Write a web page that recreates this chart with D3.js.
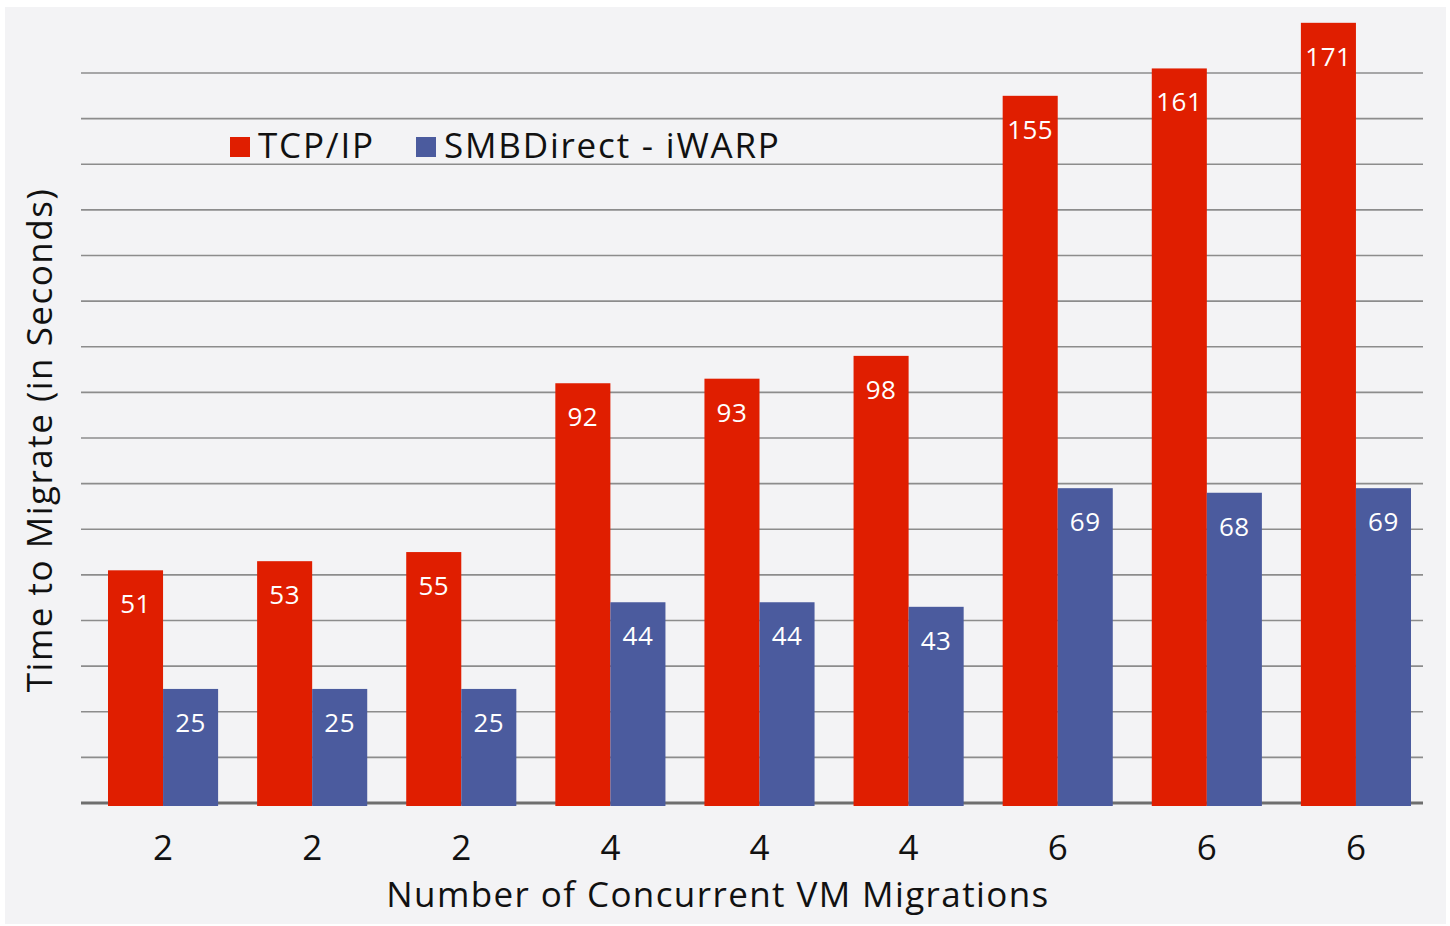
<!DOCTYPE html>
<html>
<head>
<meta charset="utf-8">
<script src="https://cdn.jsdelivr.net/npm/d3@7"></script>
<style>
  body { margin:0; background:#fff; }
  svg { display:block; font-family: "Open Sans", Lato, sans-serif; }
</style>
</head>
<body>
<div id="chart"></div>
<script>
var W = 1450, H = 926;

// data
var groups = ["2","2","2","4","4","4","6","6","6"];
var tcpVals = [51, 53, 55, 92, 93, 98, 155, 161, 171];
var smbVals = [25, 25, 25, 44, 44, 43, 69, 68, 69];
var seriesNames = ["TCP/IP", "SMBDirect - iWARP"];
var seriesColors = ["#e01e00", "#4b5b9e"];
var gridTicks = d3.range(0, 161, 10);

var m = {t:73, r:27, b:123, l:81};
var plotW = W - m.l - m.r, plotH = H - m.t - m.b;

var svg = d3.select("#chart").append("svg")
  .attr("width", W).attr("height", H);

svg.append("rect")
  .attr("x", 5).attr("y", 7)
  .attr("width", 1441).attr("height", 917)
  .attr("fill", "#f3f3f5");

var g = svg.append("g")
  .attr("transform", "translate(" + m.l + "," + m.t + ")");

var scaleY = d3.scaleLinear().domain([0, 160]).range([plotH, 0]);

// bars sit a bit right of each group slot
var step = plotW / groups.length, gap = 39;
var scaleX = d3.scaleBand()
  .domain(d3.range(groups.length))
  .range([27, 27 + step * groups.length - gap])
  .paddingInner(gap / step)
  .paddingOuter(0)
  .align(0);

var scaleSub = d3.scaleBand()
  .domain([0, 1])
  .range([0, scaleX.bandwidth()]);

// gridlines
g.selectAll(".grid")
  .data(gridTicks)
  .enter().append("line")
  .attr("class", "grid")
  .attr("x1", 0).attr("x2", plotW)
  .attr("y1", function(d){ return scaleY(d); })
  .attr("y2", function(d){ return scaleY(d); })
  .attr("stroke", function(d){ return d == 0 ? "#6e6e6e" : "#8c8c8c"; })
  .attr("stroke-width", function(d){ return d == 0 ? 3 : 1.6; });

var rows = groups.map(function(d, i){
  return {i:i, vals:[tcpVals[i], smbVals[i]]};
});

var grp = g.selectAll(".grp")
  .data(rows)
  .enter().append("g")
  .attr("class", "grp")
  .attr("transform", function(d){ return "translate(" + scaleX(d.i) + ",0)"; });

var bar = grp.selectAll(".bar")
  .data(function(d){ return d.vals.map(function(v, k){ return {v:v, k:k}; }); })
  .enter();

bar.append("rect")
  .attr("class", "bar")
  .attr("x", function(d){ return scaleSub(d.k); })
  .attr("width", scaleSub.bandwidth())
  .attr("y", function(d){ return scaleY(d.v); })
  .attr("height", function(d){ return scaleY(0) - scaleY(d.v) + 3; })
  .attr("fill", function(d){ return seriesColors[d.k]; });

bar.append("text")
  .attr("x", function(d){ return scaleSub(d.k) + scaleSub.bandwidth() / 2; })
  .attr("y", function(d){ return scaleY(d.v) + 43; })
  .attr("text-anchor", "middle")
  .attr("fill", "#fff")
  .attr("font-size", "26px")
  .attr("letter-spacing", "0.5px")
  .text(function(d){ return d.v; });

// x tick labels
g.selectAll(".xtick")
  .data(groups)
  .enter().append("text")
  .attr("class", "xtick")
  .attr("x", function(d, i){ return scaleX(i) + scaleX.bandwidth() / 2; })
  .attr("y", plotH + 57)
  .attr("text-anchor", "middle")
  .attr("font-size", "35px")
  .attr("fill", "#111")
  .text(function(d){ return d; });

// axis titles
svg.append("text")
  .attr("x", 718).attr("y", 907)
  .attr("text-anchor", "middle")
  .attr("font-size", "35px")
  .attr("letter-spacing", "1.4px")
  .attr("fill", "#111")
  .text("Number of Concurrent VM Migrations");

svg.append("text")
  .attr("transform", "translate(52,440) rotate(-90)")
  .attr("text-anchor", "middle")
  .attr("font-size", "35px")
  .attr("letter-spacing", "1.5px")
  .attr("fill", "#111")
  .text("Time to Migrate (in Seconds)");

// legend
var legX = [230, 416];
var leg = svg.selectAll(".leg")
  .data(seriesNames)
  .enter().append("g")
  .attr("class", "leg")
  .attr("transform", function(d, i){ return "translate(" + legX[i] + ",137)"; });

leg.append("rect")
  .attr("width", 20).attr("height", 20)
  .attr("fill", function(d, i){ return seriesColors[i]; });

leg.append("text")
  .attr("x", 28).attr("y", 21)
  .attr("font-size", "35px")
  .attr("letter-spacing", "1.8px")
  .attr("fill", "#111")
  .text(function(d){ return d; });
</script>
</body>
</html>
